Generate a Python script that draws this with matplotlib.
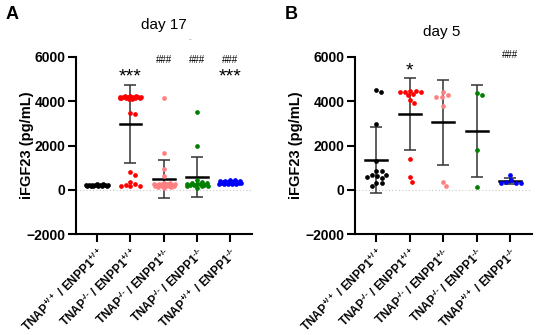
import numpy as np
import matplotlib
matplotlib.use("Agg")
import matplotlib.pyplot as plt

plt.rcParams["font.family"] = ["Liberation Sans", "DejaVu Sans"]
plt.rcParams["font.weight"] = "bold"
plt.rcParams["mathtext.fontset"] = "custom"
plt.rcParams["mathtext.rm"] = "Liberation Sans:bold"
plt.rcParams["mathtext.it"] = "Liberation Sans:bold"
plt.rcParams["mathtext.bf"] = "Liberation Sans:bold"
plt.rcParams["mathtext.default"] = "rm"

genotypes = [
    r"TNAP$^{+/+}$ / ENPP1$^{+/+}$",
    r"TNAP$^{‐/‐}$ / ENPP1$^{+/+}$",
    r"TNAP$^{‐/‐}$ / ENPP1$^{+/‐}$",
    r"TNAP$^{‐/‐}$ / ENPP1$^{‐/‐}$",
    r"TNAP$^{+/+}$ / ENPP1$^{‐/‐}$",
]
colors = ["#000000", "#ff0000", "#ff8080", "#007f00", "#0000ff"]

# day 17 (pg/mL)
d17_wt = [180, 210, 230, 200, 170, 250, 190, 220, 160, 240, 200, 185, 215, 230, 175]
d17_tnap = [4150, 4180, 4210, 4120, 4170, 4230, 4160, 4200, 4140, 4190, 4220, 4150,
            4170, 4110, 4190, 4160, 4240, 3480, 3420, 780, 660, 370, 230, 190, 160, 250, 170]
d17_het = [4130, 1650, 930, 600, 300, 250, 200, 150, 280, 120, 220, 180, 260, 100,
           240, 300, 170, 210, 140, 230, 190, 270, 160]
d17_dko = [3530, 1960, 420, 350, 300, 250, 200, 150, 280, 320, 220, 180, 100, 260, 230, 190]
d17_enpp = [300, 350, 280, 420, 380, 250, 330, 290, 450, 310, 270, 360, 400, 240,
            340, 300, 320, 260, 380, 290]

# day 5 (pg/mL)
d5_wt = [4435, 4510, 2950, 1320, 825, 825, 680, 680, 530, 575, 600, 300, 300, 150]
d5_tnap = [4435, 4400, 4450, 4350, 4300, 4420, 4450, 4060, 3910, 1385, 555, 345]
d5_het = [4405, 4285, 4180, 4180, 3790, 345, 150]
d5_dko = [4390, 4300, 1805, 120]
d5_enpp = [675, 450, 315, 315, 300, 330]

day17 = [d17_wt, d17_tnap, d17_het, d17_dko, d17_enpp]
day5 = [d5_wt, d5_tnap, d5_het, d5_dko, d5_enpp]

XPX = 33.3        # pixels per category
YPX = 1 / 45.1    # pixels per pg/mL


def swarm(vals, d=5.0, step=0.03, maxw=0.34):
    vals = np.asarray(vals, float)
    cands = [0.0]
    k = 1
    while k * step <= maxw + 1e-9:
        cands += [k * step, -k * step]
        k += 1
    offs = np.zeros(len(vals))
    placed = []
    for i in np.argsort(vals)[::-1]:
        y = vals[i] * YPX
        best, bestc, bestd = None, 0.0, -1
        for c in cands:
            dmin = min([np.hypot((c - px) * XPX, y - py) for px, py in placed], default=1e9)
            if dmin >= d:
                best = c
                break
            if dmin > bestd + 0.3:
                bestd, bestc = dmin, c
        if best is None:
            best = bestc
        offs[i] = best
        placed.append((best, y))
    return offs


def panel(ax, data, lab_x):
    ax.axhline(0, color="#c8c8c8", ls=(0, (1, 2)), lw=0.8, zorder=1)
    for i, (vals, c) in enumerate(zip(data, colors)):
        vals = np.asarray(vals, float)
        m, sd = vals.mean(), vals.std(ddof=1)
        ax.errorbar(i, m, yerr=sd, color="#333333", lw=1.1, capsize=4.3, capthick=1.1, zorder=2)
        ax.plot([i - 0.33, i + 0.33], [m, m], color="black", lw=1.8, zorder=3)
        ax.plot(i + swarm(vals), vals, "o", color=c, ms=3.4, mec="none", zorder=4)
    ax.set_xlim(-0.64, 4.66)
    ax.set_ylim(-2000, 6000)
    ax.set_yticks([-2000, 0, 2000, 4000, 6000])
    ax.set_xticks(range(5))
    ax.set_xticklabels(genotypes, rotation=45, ha="right", rotation_mode="anchor", fontsize=8.5)
    ax.set_ylabel("iFGF23 (pg/mL)", fontsize=10.5, fontweight="bold")
    ax.yaxis.set_label_coords(lab_x, 0.5)
    for s in ["top", "right"]:
        ax.spines[s].set_visible(False)
    for s in ["left", "bottom"]:
        ax.spines[s].set_linewidth(1.5)
    ax.tick_params(axis="y", width=1.5, length=6, pad=1.5, labelsize=10)
    ax.tick_params(axis="x", width=1.5, length=6, pad=2.5, labelsize=8.5)


fig = plt.figure(figsize=(5.36, 3.35), dpi=100)
axA = fig.add_axes([76 / 536, 1 - 234 / 335, 176 / 536, 177 / 335])
axB = fig.add_axes([355 / 536, 1 - 234 / 335, 177 / 536, 177 / 335])
panel(axA, day17, -0.24)
panel(axB, day5, -0.294)

axA.text(1, 5100, "***", ha="center", va="center", fontsize=14, fontweight="normal")
axA.text(4, 5100, "***", ha="center", va="center", fontsize=14, fontweight="normal")
for i in [2, 3, 4]:
    axA.text(i, 5860, "###", ha="center", va="center", fontsize=7, fontweight="normal")
axB.text(1, 5350, "*", ha="center", va="center", fontsize=14, fontweight="normal")
axB.text(4, 6090, "###", ha="center", va="center", fontsize=7, fontweight="normal", clip_on=False)

fig.text(164 / 536, 1 - 29 / 335, "day 17", ha="center", va="baseline", fontsize=11, fontweight="normal")
fig.text(442 / 536, 1 - 36 / 335, "day 5", ha="center", va="baseline", fontsize=11, fontweight="normal")
fig.text(190 / 536, 1 - 40 / 335, "-", ha="center", va="center", fontsize=6, color="#999999", fontweight="normal")
fig.text(6 / 536, 1 - 19 / 335, "A", ha="left", va="baseline", fontsize=13, fontweight="bold")
fig.text(285 / 536, 1 - 19 / 335, "B", ha="left", va="baseline", fontsize=13, fontweight="bold")

fig.savefig("out.png", dpi=100)
